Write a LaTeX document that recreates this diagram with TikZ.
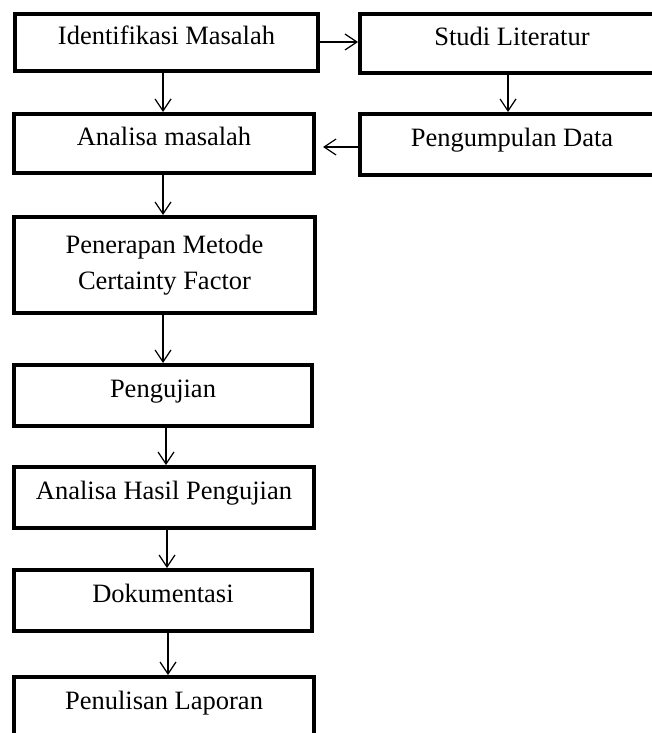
\documentclass[tikz,border=0pt]{standalone}
\usepackage{fontspec}
\setmainfont{Liberation Serif}
\usetikzlibrary{arrows.meta}
\begin{document}
\begin{tikzpicture}[x=1pt,y=-1pt,
  stepbox/.style={draw=black, line width=4pt, inner sep=0pt, align=center,
    font=\fontsize{26.5}{36}\selectfont},
  oneline/.style={text height=0.7em, text depth=0.36em},
  arr/.style={line width=1.2pt, -{Straight Barb[length=12pt,width=16pt]}}]
\useasboundingbox (0,0) rectangle (652,733);
\node[stepbox,oneline,minimum width=303pt,minimum height=57pt] (ident) at (166.5,42.5) {Identifikasi Masalah};
\node[stepbox,oneline,minimum width=304pt,minimum height=59pt] (studi) at (512,43.5) {Studi Literatur};
\node[stepbox,oneline,minimum width=300pt,minimum height=59pt] (analisa) at (164,143.5) {Analisa masalah};
\node[stepbox,oneline,minimum width=304pt,minimum height=61pt] (kumpul) at (512,144.5) {Pengumpulan Data};
\node[stepbox,minimum width=301pt,minimum height=96pt] (terap) at (164.5,265) {Penerapan Metode\\Certainty Factor};
\node[stepbox,oneline,minimum width=298pt,minimum height=61pt] (uji) at (163,395.5) {Pengujian};
\node[stepbox,oneline,minimum width=300pt,minimum height=61pt] (hasil) at (164,497.5) {Analisa Hasil Pengujian};
\node[stepbox,oneline,minimum width=298pt,minimum height=61pt] (dok) at (163,600.5) {Dokumentasi};
\node[stepbox,oneline,minimum width=300pt,minimum height=62pt] (tulis) at (164,708) {Penulisan Laporan};
% connectors
\draw[arr] ([yshift=0.5pt]ident.east) -- ([yshift=0.5pt]ident.east -| studi.west);
\draw[arr] ([xshift=-3.5pt]ident.south) -- ([xshift=-3.5pt]ident.south |- analisa.north);
\draw[arr] ([xshift=-4pt]studi.south) -- ([xshift=-4pt]studi.south |- kumpul.north);
\draw[arr] ([yshift=-2.5pt]kumpul.west) -- ([yshift=-2.5pt,xshift=7pt]kumpul.west -| analisa.east);
\draw[arr] ([xshift=-1pt]analisa.south) -- ([xshift=-1pt]analisa.south |- terap.north);
\draw[arr] ([xshift=-1.5pt]terap.south) -- ([xshift=-1.5pt]terap.south |- uji.north);
\draw[arr] ([xshift=3pt]uji.south) -- ([xshift=3pt]uji.south |- hasil.north);
\draw[arr] ([xshift=3pt]hasil.south) -- ([xshift=3pt]hasil.south |- dok.north);
\draw[arr] ([xshift=5pt]dok.south) -- ([xshift=5pt]dok.south |- tulis.north);
\end{tikzpicture}
\end{document}
